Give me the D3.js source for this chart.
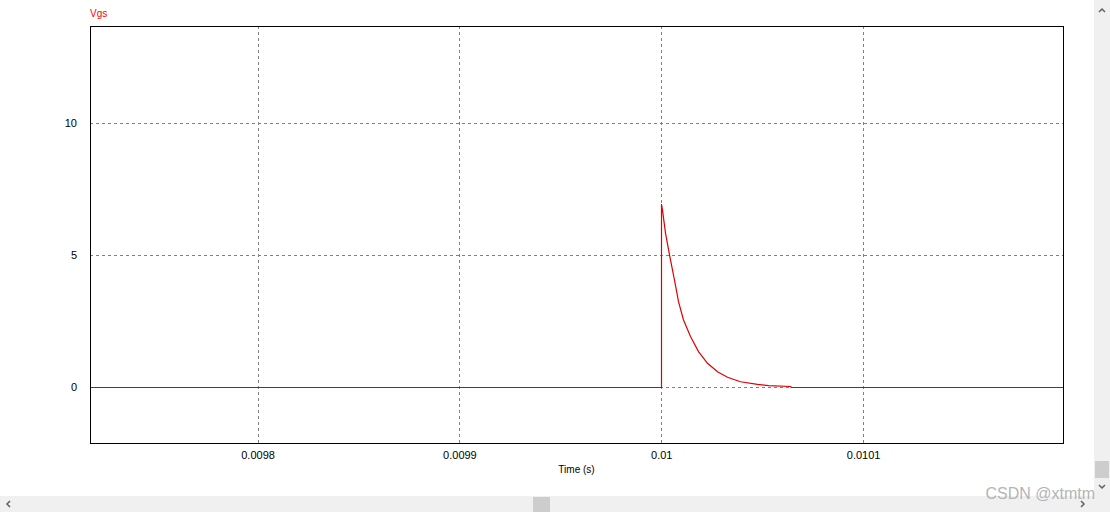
<!DOCTYPE html>
<html>
<head>
<meta charset="utf-8">
<script src="https://cdn.jsdelivr.net/npm/d3@7"></script>
<style>
html,body{margin:0;padding:0;background:#fff;overflow:hidden;}
svg{display:block;}
</style>
</head>
<body>
<svg id="chart" width="1110" height="512"></svg>
<script>
// ---- data ----
const seriesName = "Vgs";
const times = [0.009717, 0.0100000, 0.0100000, 0.0100005, 0.0100020, 0.0100040, 0.0100061, 0.0100084,
  0.0100109, 0.0100144, 0.0100183, 0.0100228, 0.0100277, 0.0100327, 0.0100391, 0.0100475,
  0.0100530, 0.0100639, 0.0100644, 0.010199];
const vgs = [0, 0, 6.93, 6.70, 5.83, 5.00, 4.05, 3.23,
  2.54, 1.91, 1.34, 0.90, 0.58, 0.37, 0.20, 0.10,
  0.05, 0.02, 0, 0];
const xTicks = [0.0098, 0.0099, 0.01, 0.0101];
const xTickLabels = ["0.0098", "0.0099", "0.01", "0.0101"];
const yTicks = [0, 5, 10];
const yTickLabels = ["0", "5", "10"];
const xLabel = "Time (s)";
const watermark = "CSDN @xtmtm";

// ---- layout ----
const W = 1110, H = 512;
const L = 90, T = 26, R = 1063, B = 443;
const svg = d3.select("#chart");
const font = "'Liberation Sans', Arial, sans-serif";

const x = d3.scaleLinear().domain([0.009717, 0.010199]).range([L, R]);
const y = d3.scaleLinear().domain([-2.12, 13.67]).range([B, T]);

svg.append("defs").append("clipPath").attr("id", "plotclip")
  .append("rect").attr("x", L).attr("y", T).attr("width", R - L).attr("height", B - T);

// gridlines
const grid = svg.append("g");
grid.selectAll("line.vx").data(xTicks).join("line")
  .attr("x1", d => Math.round(x(d)) + 0.5).attr("x2", d => Math.round(x(d)) + 0.5)
  .attr("y1", T).attr("y2", B)
  .attr("stroke", "#808080").attr("stroke-width", 1).attr("stroke-dasharray", "3,3");
grid.selectAll("line.hy").data(yTicks).join("line")
  .attr("y1", d => Math.round(y(d)) + 0.5).attr("y2", d => Math.round(y(d)) + 0.5)
  .attr("x1", L).attr("x2", R)
  .attr("stroke", "#808080").attr("stroke-width", 1).attr("stroke-dasharray", "3,3");

// axes (labels only)
const xAxis = d3.axisBottom(x).tickValues(xTicks).tickFormat((d, i) => xTickLabels[i]).tickSize(0).tickPadding(8);
const gx = svg.append("g").attr("transform", `translate(0,${B})`).call(xAxis);
gx.select(".domain").remove();
gx.selectAll("text").attr("font-family", font).attr("font-size", 11).attr("fill", "#000");

const yAxis = d3.axisLeft(y).tickValues(yTicks).tickFormat((d, i) => yTickLabels[i]).tickSize(0).tickPadding(13);
const gy = svg.append("g").attr("transform", `translate(${L},0)`).call(yAxis);
gy.select(".domain").remove();
gy.selectAll("text").attr("font-family", font).attr("font-size", 11).attr("fill", "#000");

// series
const pts = times.map((t, i) => [t, vgs[i]]);
svg.append("path").datum(pts)
  .attr("clip-path", "url(#plotclip)")
  .attr("d", d3.line().x(d => Math.round(x(d[0])) + 0.5).y(d => y(d[1]) === y(0) ? Math.round(y(0)) + 0.5 : y(d[1])))
  .attr("fill", "none").attr("stroke", "#e00000").attr("stroke-width", 1.2);

// frame
svg.append("rect").attr("x", L + 0.5).attr("y", T + 0.5).attr("width", R - L).attr("height", B - T)
  .attr("fill", "none").attr("stroke", "#000").attr("stroke-width", 1);

// titles
svg.append("text").attr("x", L).attr("y", 17).text(seriesName)
  .attr("font-family", font).attr("font-size", 10).attr("fill", "#ff0000");
svg.append("text").attr("x", (L + R) / 2).attr("y", 473).attr("text-anchor", "middle").text(xLabel)
  .attr("font-family", font).attr("font-size", 10).attr("fill", "#000");

// scrollbars
svg.append("rect").attr("x", 1094).attr("y", 0).attr("width", 16).attr("height", 496).attr("fill", "#f0f0f0");
svg.append("rect").attr("x", 1095).attr("y", 461).attr("width", 14).attr("height", 17).attr("fill", "#cdcdcd");
svg.append("rect").attr("x", 0).attr("y", 496).attr("width", 1110).attr("height", 16).attr("fill", "#f0f0f0");
svg.append("rect").attr("x", 533).attr("y", 497).attr("width", 17).attr("height", 15).attr("fill", "#cdcdcd");
const arrow = (d) => svg.append("path").attr("d", d).attr("fill", "none").attr("stroke", "#606060").attr("stroke-width", 1.5);
arrow("M1099,12 L1102,9 L1105,12");
arrow("M1099,485 L1102,488 L1105,485");
arrow("M10,501 L7,504 L10,507");
arrow("M1081,501 L1084,504 L1081,507");

// watermark
svg.append("text").attr("x", 1095).attr("y", 499).attr("text-anchor", "end").text(watermark)
  .attr("font-family", font).attr("font-size", 16).attr("fill", "#a8a8a8").attr("opacity", 0.85);
</script>
</body>
</html>
